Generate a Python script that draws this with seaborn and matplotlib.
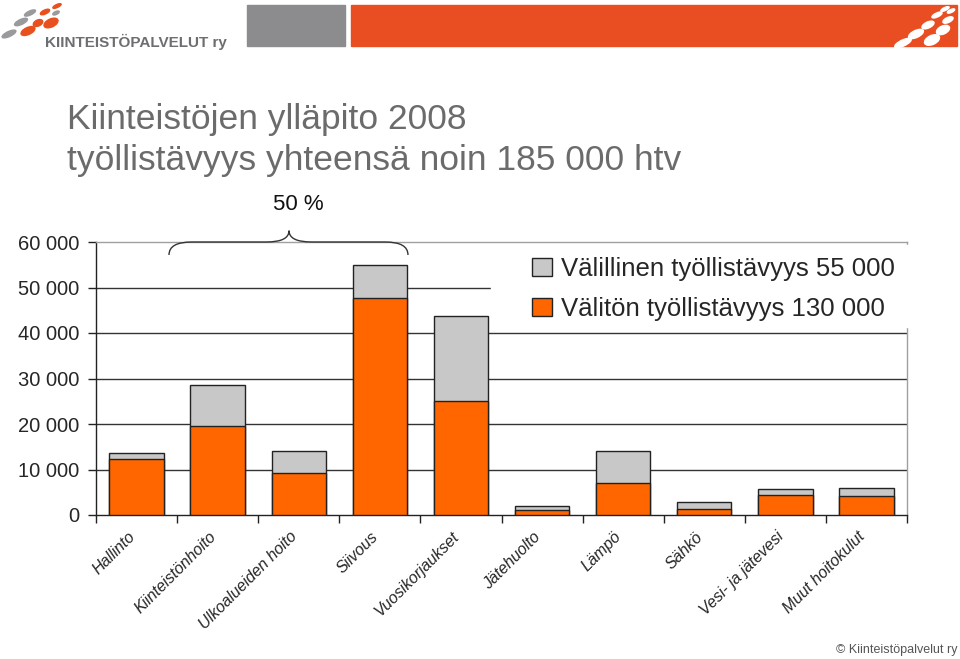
import matplotlib
matplotlib.use('Agg')
import matplotlib.pyplot as plt
import matplotlib.transforms as mtransforms
import seaborn as sns
import numpy as np
from matplotlib.patches import Rectangle, Ellipse, PathPatch, Patch
from matplotlib.path import Path
from matplotlib.ticker import FuncFormatter

# data
categories = ['Hallinto', 'Kiinteistönhoito', 'Ulkoalueiden hoito', 'Siivous',
              'Vuosikorjaukset', 'Jätehuolto', 'Lämpö', 'Sähkö',
              'Vesi- ja jätevesi', 'Muut hoitokulut']
direct = [12200, 19600, 9200, 47800, 25100, 1100, 7000, 1400, 4300, 4100]
indirect = [1400, 8900, 4800, 7200, 18600, 900, 7100, 1400, 1500, 1900]
total = [d + i for d, i in zip(direct, indirect)]
yticks = [0, 10000, 20000, 30000, 40000, 50000, 60000]

legend_labels = ['Välillinen työllistävyys 55 000', 'Välitön työllistävyys 130 000']
title1 = 'Kiinteistöjen ylläpito 2008'
title2 = 'työllistävyys yhteensä noin 185 000 htv'

orange = '#FF6600'
grey = '#C8C8C8'
edge = '#222222'

sns.set_style('white')
plt.rcParams['font.family'] = ['Liberation Sans', 'DejaVu Sans']

fig = plt.figure(figsize=(9.6, 6.59), dpi=100)
W, H = 960, 659

# header / decoration layer in pixel coords
deco = fig.add_axes([0, 0, 1, 1], zorder=-1)
deco.set_xlim(0, W)
deco.set_ylim(H, 0)
deco.axis('off')
deco.add_patch(Rectangle((247, 5), 98, 41, color='#8C8C8E'))
deco.add_patch(Rectangle((351, 5), 606, 41, color='#E84E22'))
# logo dashes (left)
for (cx, cy, w, h, c) in [(9, 34, 15, 5, '#9a9a9c'), (21, 22, 14, 5, '#9a9a9c'),
                          (30, 13, 12, 4, '#9a9a9c'), (28, 31, 15, 7, '#E8501E'),
                          (38, 23, 10, 6, '#E8501E'), (51, 23, 15, 8, '#E8501E'),
                          (45, 12, 10, 4, '#E8501E'), (57, 6, 9, 3, '#E8501E'),
                          (56, 13, 7, 3, '#9a9a9c')]:
    deco.add_patch(Ellipse((cx, cy), w, h, angle=-25, color=c))
deco.text(45, 42, 'KIINTEISTÖPALVELUT ry', fontsize=11, fontweight='bold',
          color='#6D6E71', va='center', ha='left')
# logo dashes (right, white on orange)
for (cx, cy, w, h) in [(903, 43, 18, 6), (916, 34, 16, 7), (928, 25, 13, 6),
                       (937, 15, 11, 4), (945, 9, 9, 3), (932, 40, 16, 9),
                       (943, 30, 14, 8), (948, 20, 11, 5), (951, 11, 8, 3)]:
    deco.add_patch(Ellipse((cx, cy), w, h, angle=-25, color='white'))

fig.text(67 / W, 1 - 129 / H, title1, fontsize=25.5, color='#6b6b6b', va='baseline')
fig.text(67 / W, 1 - 170 / H, title2, fontsize=25.5, color='#6b6b6b', va='baseline')
fig.text(957 / W, 1 - 650 / H, '© Kiinteistöpalvelut ry', fontsize=9,
         color='#555555', ha='right', va='center')

ax = fig.add_axes([96 / W, 1 - 515 / H, 811 / W, 273 / H])
ax.set_facecolor('none')

sns.barplot(x=categories, y=total, color=grey, saturation=1, width=0.67,
            edgecolor=edge, linewidth=1, ax=ax, zorder=3)
sns.barplot(x=categories, y=direct, color=orange, saturation=1, width=0.67,
            edgecolor=edge, linewidth=1, ax=ax, zorder=3)

ax.set_xlim(-0.5, 9.5)
ax.set_ylim(0, 60000)
ax.set_xlabel('')
ax.set_ylabel('')
ax.set_yticks(yticks)
ax.yaxis.set_major_formatter(FuncFormatter(lambda v, _: f'{int(v):,}'.replace(',', ' ')))
ax.tick_params(axis='y', labelsize=14.5, length=6, width=1, color=edge, direction='out',
               left=True, pad=6)
for v in yticks[1:-1]:
    ax.axhline(v, color='#333333', lw=1, zorder=1)

ax.set_xticks(range(len(categories)))
ax.set_xticklabels(categories, rotation=45, ha='right', va='center',
                   rotation_mode='anchor', fontsize=11.5, style='italic')
ax.tick_params(axis='x', which='major', length=0, pad=14)
ax.set_xticks(np.arange(-0.5, 10, 1), minor=True)
ax.tick_params(axis='x', which='minor', length=6, width=1, color=edge, bottom=True)
shift = mtransforms.ScaledTranslation(-4 / 100, 0, fig.dpi_scale_trans)
for lab in ax.get_xticklabels():
    lab.set_transform(lab.get_transform() + shift)

for s in ['left', 'bottom']:
    ax.spines[s].set_color(edge)
    ax.spines[s].set_linewidth(1)
for s in ['top', 'right']:
    ax.spines[s].set_color('#a0a0a0')
    ax.spines[s].set_linewidth(1)

# white area behind legend
ax.add_patch(Rectangle((0.4865, 0.689), 0.53, 0.30, transform=ax.transAxes,
                       color='white', zorder=4, clip_on=False))
handles = [Patch(facecolor=grey, edgecolor=edge, lw=1),
           Patch(facecolor=orange, edgecolor=edge, lw=1)]
leg = ax.legend(handles, legend_labels, loc='upper left', bbox_to_anchor=(0.538, 0.945),
                frameon=False, fontsize=18.5, handlelength=0.75, handleheight=0.75,
                handletextpad=0.35, labelspacing=0.62, borderaxespad=0, borderpad=0)
leg.set_zorder(6)

# brace over the first four categories
x0, x1, xc = 0.40, 3.347, 1.88
y0, y1, y2 = 57150, 60000, 62490
w = 0.28
verts = [(x0, y0), (x0, y1), (x0 + w, y1),
         (xc - w, y1), (xc, y1), (xc, y2),
         (xc, y1), (xc + w, y1),
         (x1 - w, y1), (x1, y1), (x1, y0)]
codes = [Path.MOVETO, Path.CURVE3, Path.CURVE3,
         Path.LINETO, Path.CURVE3, Path.CURVE3,
         Path.CURVE3, Path.CURVE3,
         Path.LINETO, Path.CURVE3, Path.CURVE3]
ax.add_patch(PathPatch(Path(verts, codes), fill=False, lw=1, color='#333333',
                       clip_on=False, zorder=5))
ax.text(1.99, 68140, '50 %', fontsize=16, ha='center', va='center', color='#111111')

fig.savefig('out.png', dpi=100)
